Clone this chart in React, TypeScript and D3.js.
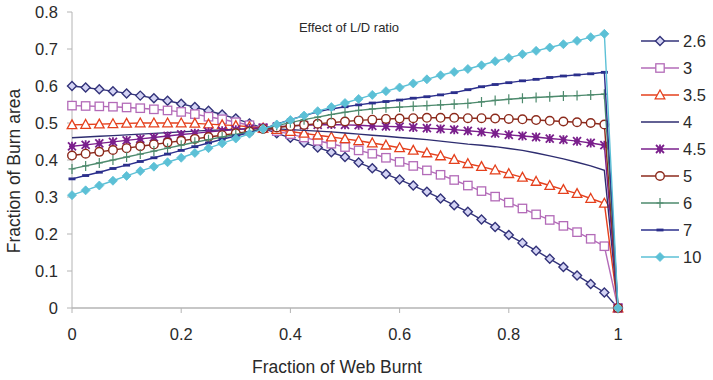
import React from 'react';
import * as d3 from 'd3';

const webBurnt = [0,0.025,0.05,0.075,0.1,0.125,0.15,0.175,0.2,0.225,0.25,0.275,0.3,0.325,0.35,0.375,0.4,0.425,0.45,0.475,0.5,0.525,0.55,0.575,0.6,0.625,0.65,0.675,0.7,0.725,0.75,0.775,0.8,0.825,0.85,0.875,0.9,0.925,0.95,0.975,1];

const ld2_6 = [0.600,0.596,0.591,0.586,0.580,0.574,0.567,0.560,0.552,0.543,0.533,0.523,0.512,0.499,0.486,0.472,0.460,0.447,0.434,0.421,0.408,0.393,0.378,0.362,0.347,0.331,0.314,0.296,0.278,0.260,0.239,0.219,0.197,0.176,0.155,0.133,0.111,0.088,0.065,0.042,0];
const ld3 = [0.547,0.546,0.545,0.544,0.542,0.540,0.537,0.534,0.530,0.524,0.517,0.510,0.502,0.494,0.486,0.478,0.470,0.461,0.452,0.444,0.435,0.426,0.417,0.406,0.395,0.384,0.372,0.360,0.346,0.331,0.316,0.301,0.285,0.269,0.253,0.238,0.222,0.205,0.187,0.167,0];
const ld3_5 = [0.495,0.496,0.497,0.498,0.499,0.500,0.500,0.500,0.500,0.499,0.497,0.495,0.493,0.490,0.486,0.482,0.477,0.472,0.467,0.462,0.457,0.452,0.446,0.440,0.433,0.426,0.419,0.411,0.401,0.390,0.382,0.373,0.363,0.353,0.342,0.331,0.320,0.309,0.296,0.283,0];
const ld4 = [0.460,0.462,0.464,0.466,0.468,0.470,0.472,0.474,0.476,0.478,0.480,0.481,0.483,0.484,0.485,0.484,0.482,0.480,0.478,0.476,0.473,0.470,0.467,0.464,0.461,0.458,0.455,0.451,0.447,0.443,0.440,0.436,0.431,0.426,0.419,0.411,0.403,0.394,0.384,0.372,0];
const ld4_5 = [0.437,0.441,0.445,0.449,0.453,0.457,0.461,0.465,0.469,0.472,0.476,0.479,0.482,0.485,0.487,0.490,0.492,0.494,0.495,0.496,0.495,0.494,0.492,0.491,0.490,0.488,0.486,0.484,0.482,0.479,0.476,0.472,0.468,0.465,0.462,0.458,0.455,0.451,0.446,0.440,0];
const ld5 = [0.412,0.417,0.422,0.427,0.432,0.437,0.442,0.447,0.452,0.457,0.462,0.467,0.472,0.477,0.484,0.488,0.492,0.495,0.498,0.501,0.504,0.507,0.509,0.511,0.512,0.513,0.514,0.514,0.514,0.513,0.513,0.512,0.511,0.510,0.508,0.506,0.504,0.502,0.500,0.496,0];
const ld6 = [0.376,0.384,0.392,0.400,0.408,0.416,0.424,0.432,0.440,0.448,0.455,0.462,0.469,0.476,0.484,0.493,0.501,0.509,0.516,0.523,0.529,0.534,0.538,0.541,0.543,0.545,0.547,0.549,0.551,0.553,0.557,0.561,0.564,0.567,0.569,0.571,0.573,0.574,0.576,0.578,0];
const ld7 = [0.349,0.358,0.367,0.377,0.386,0.396,0.406,0.416,0.426,0.436,0.446,0.456,0.465,0.474,0.484,0.497,0.509,0.520,0.530,0.538,0.544,0.549,0.554,0.558,0.562,0.567,0.571,0.576,0.582,0.590,0.598,0.604,0.609,0.614,0.618,0.623,0.627,0.630,0.633,0.637,0];
const ld10 = [0.305,0.318,0.331,0.344,0.357,0.370,0.382,0.394,0.406,0.419,0.432,0.445,0.458,0.471,0.484,0.496,0.508,0.520,0.532,0.543,0.554,0.565,0.576,0.586,0.596,0.607,0.618,0.629,0.638,0.646,0.656,0.667,0.676,0.686,0.695,0.704,0.713,0.722,0.732,0.741,0];

const seriesNames = ['2.6','3','3.5','4','4.5','5','6','7','10'];
const seriesValues = [ld2_6, ld3, ld3_5, ld4, ld4_5, ld5, ld6, ld7, ld10];
const xTicks = [0,0.2,0.4,0.6,0.8,1];
const yTicks = [0,0.1,0.2,0.3,0.4,0.5,0.6,0.7,0.8];

const styles = [
  { color: '#33337a', marker: 'diamond', fill: '#d4d4f4' },
  { color: '#b36bb8', marker: 'square', fill: '#ffffff' },
  { color: '#e5401d', marker: 'triangle', fill: '#ffffff' },
  { color: '#2e2d70', marker: 'none', fill: 'none' },
  { color: '#7a1f8c', marker: 'star', fill: 'none' },
  { color: '#8c2a1c', marker: 'circle', fill: '#ffffff' },
  { color: '#4d8a6d', marker: 'plus', fill: 'none' },
  { color: '#2b2f8c', marker: 'dash', fill: 'none' },
  { color: '#5cc0d6', marker: 'fdiamond', fill: '#5cc0d6' },
];

function Marker({ type, x, y, color, fill }: any) {
  const t = `translate(${x},${y})`;
  switch (type) {
    case 'diamond':
      return <path transform={t} d="M0,-4.5L4.5,0L0,4.5L-4.5,0Z" fill={fill} stroke={color} strokeWidth={1.4} />;
    case 'fdiamond':
      return <path transform={t} d="M0,-4.5L4.5,0L0,4.5L-4.5,0Z" fill={fill} stroke={color} strokeWidth={0.8} />;
    case 'square':
      return <rect transform={t} x={-4.2} y={-4.2} width={8.4} height={8.4} fill={fill} stroke={color} strokeWidth={1.3} />;
    case 'triangle':
      return <path transform={t} d="M0,-5L4.8,3.8L-4.8,3.8Z" fill={fill} stroke={color} strokeWidth={1.3} />;
    case 'circle':
      return <circle transform={t} r={4.3} fill={fill} stroke={color} strokeWidth={1.4} />;
    case 'star':
      return <path transform={t} d="M-4,-4L4,4M-4,4L4,-4M0,-4.5L0,4.5M-3,0L3,0" stroke={color} strokeWidth={1.8} fill="none" />;
    case 'plus':
      return <path transform={t} d="M0,-5L0,5M-3.5,0L3.5,0" stroke={color} strokeWidth={1.2} fill="none" />;
    case 'dash':
      return <rect transform={t} x={-3.5} y={-1.4} width={7} height={2.8} fill={color} />;
    default:
      return null;
  }
}

export default function App() {
  const W = 713, H = 380;
  const x = d3.scaleLinear().domain([0, 1]).range([72, 618]);
  const y = d3.scaleLinear().domain([0, 0.8]).range([308, 12]);
  const line = d3.line<number>().x((_, i) => x(webBurnt[i])).y(d => y(d));
  const font = '"Liberation Sans", Arial, sans-serif';
  const axisColor = '#b4b4b4';
  const textColor = '#2a2a2a';

  return (
    <div style={{ position: 'absolute', left: 0, top: 0 }}>
      <svg width={W} height={H} style={{ display: 'block', background: '#fff' }}>
        {/* axes */}
        <line x1={x(0)} x2={x(0)} y1={y(0.8)} y2={y(0)} stroke={axisColor} strokeWidth={1} />
        <line x1={x(0)} x2={x(1) + 4} y1={y(0)} y2={y(0)} stroke={axisColor} strokeWidth={1.5} />
        {yTicks.map(t => (
          <g key={'y' + t}>
            <line x1={x(0) - 5} x2={x(0)} y1={y(t)} y2={y(t)} stroke={axisColor} />
            <text x={58} y={y(t)} dy="0.36em" textAnchor="end" fontFamily={font} fontSize={16.5} fill={textColor}>{t === 0 ? '0' : d3.format('.1f')(t)}</text>
          </g>
        ))}
        {xTicks.map(t => (
          <g key={'x' + t}>
            <line x1={x(t)} x2={x(t)} y1={y(0)} y2={y(0) + 5} stroke={axisColor} />
            <text x={x(t)} y={340} textAnchor="middle" fontFamily={font} fontSize={16.5} fill={textColor}>{t === 0 || t === 1 ? String(t) : d3.format('.1f')(t)}</text>
          </g>
        ))}
        <text x={337} y={372.5} textAnchor="middle" fontFamily={font} fontSize={17.5} fill={textColor}>Fraction of Web Burnt</text>
        <text transform={`translate(20,171) rotate(-90)`} textAnchor="middle" fontFamily={font} fontSize={17.5} fill={textColor}>Fraction of Burn area</text>
        <text x={349} y={32} textAnchor="middle" fontFamily={font} fontSize={13} fill={textColor}>Effect of L/D ratio</text>

        {/* series */}
        {seriesValues.map((vals, si) => {
          const s = styles[si];
          return (
            <g key={seriesNames[si]}>
              <path d={line(vals) || ''} fill="none" stroke={s.color} strokeWidth={1.4} />
              {vals.map((v, i) => (
                <Marker key={i} type={s.marker} x={x(webBurnt[i])} y={y(v)} color={s.color} fill={s.fill} />
              ))}
            </g>
          );
        })}

        {/* legend */}
        {seriesNames.map((n, i) => {
          const s = styles[i];
          const ly = 41 + i * 27;
          return (
            <g key={'leg' + n}>
              <line x1={641} x2={679} y1={ly} y2={ly} stroke={s.color} strokeWidth={1.4} />
              <Marker type={s.marker} x={660} y={ly} color={s.color} fill={s.fill} />
              <text x={683} y={ly} dy="0.36em" fontFamily={font} fontSize={16.5} fill={textColor}>{n}</text>
            </g>
          );
        })}
      </svg>
    </div>
  );
}
